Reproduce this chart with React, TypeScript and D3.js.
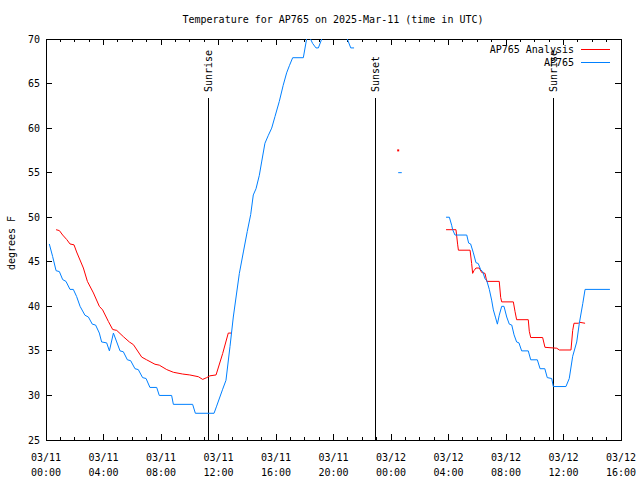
import React from "react";
import * as d3 from "d3";

const START = Date.UTC(2025, 2, 11, 0, 0);
const END = Date.UTC(2025, 2, 12, 16, 0);

// hours after 03/11 00:00 UTC (null = gap)
const obsHours: (number | null)[] = [
  0.23, 0.46, 0.7, 0.93, 1.16, 1.39, 1.67, 1.9, 2.13, 2.37, 2.71, 2.95, 3.22, 3.45, 3.71, 3.87, 4.22, 4.41, 4.69, 4.92,
  5.15, 5.38, 5.66, 5.89, 6.19, 6.42, 6.72, 6.96, 7.23, 7.7, 7.88, 8.74, 8.86, 10.2, 10.39, 11.69, 11.87, 12.29, 12.52,
  12.8, 13.03, 13.45, 13.73, 14.0, 14.24, 14.42, 14.61, 14.84, 15.0, 15.23, 15.47, 15.7, 15.93, 16.23, 16.5, 16.74,
  16.93, 17.16, 17.9, 18.13, 18.25, 18.37, 18.55, 18.78, 18.95, 19.18, 19.5, 20.0, 20.5, 20.96, 21.2, 21.43,
  null,
  24.5, 24.75,
  null,
  27.83, 28.06, 28.22, 28.29, 28.45, 29.27, 29.4, 29.54, 29.73, 29.91, 30.07, 30.24, 30.38, 30.54, 30.66, 30.84, 31.0,
  31.12, 31.28, 31.4, 31.53, 31.7, 31.86, 32.05, 32.23, 32.4, 32.56, 32.74, 32.9, 33.09, 33.55, 33.72, 34.18, 34.37,
  34.7, 34.87, 35.18, 35.29, 36.17, 36.4, 36.64, 36.92, 37.1, 37.34, 37.5, 39.23,
];
const obsTemps: (number | null)[] = [
  47.0, 45.6, 44.0, 43.9, 43.0, 42.8, 41.9, 41.9, 41.1, 40.0, 39.0, 38.8, 38.0, 37.9, 37.0, 36.0, 35.9, 35.0, 37.0, 36.0,
  35.0, 34.9, 34.0, 33.9, 33.0, 32.9, 32.0, 31.9, 30.9, 30.9, 30.0, 30.0, 29.0, 29.0, 28.0, 28.0, 28.8, 30.7, 31.7,
  35.5, 38.8, 43.7, 46.1, 48.4, 50.3, 52.5, 53.2, 54.7, 56.2, 58.3, 59.2, 60.0, 61.3, 63.0, 64.8, 66.2,
  67.0, 67.9, 67.9, 70.0, 70.5, 70.1, 69.5, 69.0, 69.0, 70.0, 71.0, 72.0, 71.5, 70.0, 69.0, 69.0,
  null,
  55.0, 55.0,
  null,
  50.0, 50.0, 49.1, 48.6, 48.0, 48.0, 47.1, 47.0, 46.0, 44.9, 44.8, 44.1, 43.9, 43.1, 42.9, 41.9, 40.7,
  39.6, 38.7, 38.0, 39.0, 40.0, 40.0, 38.8, 38.0, 37.9, 36.8, 36.0, 35.9, 35.0, 35.0, 34.0, 34.0, 33.0,
  33.0, 32.0, 31.9, 31.0, 31.0, 31.9, 34.4, 36.0, 38.1, 40.3, 41.9, 41.9,
];

const anaHours: (number | null)[] = [
  0.7, 0.93, 1.16, 1.44, 1.67, 1.95, 2.13, 2.6, 2.88, 3.3, 3.71, 3.94, 4.34, 4.64, 4.92, 5.38, 5.8, 6.08, 6.66, 7.0,
  7.58, 7.88, 8.4, 8.86, 9.51, 10.0, 10.6, 10.9, 11.18, 11.4, 11.83, 12.29, 12.68, 12.9,
  null,
  24.5,
  null,
  27.83, 28.52, 28.64, 28.69, 29.5, 29.61, 29.68, 29.77, 29.91, 30.14, 30.31, 30.54, 30.66, 31.53, 31.63, 31.7, 32.51,
  32.63, 32.74, 33.55, 33.62, 33.72, 34.55, 34.71, 35.53, 35.71, 36.52, 36.64, 36.73, 37.03, 37.15, 37.5,
];
const anaTemps: (number | null)[] = [
  48.6, 48.5, 48.0, 47.5, 47.0, 46.9, 46.1, 44.3, 42.8, 41.5, 40.0, 39.6, 38.3, 37.4, 37.3, 36.6, 36.0, 35.7, 34.3, 34.0,
  33.5, 33.4, 32.9, 32.6, 32.4, 32.3, 32.1, 31.8, 32.0, 32.2, 32.3, 34.7, 37.0, 37.0,
  null,
  57.5,
  null,
  48.6, 48.6, 46.9, 46.3, 46.3, 44.8, 43.7, 44.0, 44.3, 44.3, 43.8, 43.7, 42.8, 42.8, 41.0, 40.5, 40.5,
  39.4, 38.5, 38.5, 37.2, 36.5, 36.5, 35.4, 35.3, 35.1, 35.1, 37.3, 38.1, 38.1, 38.2, 38.1,
];

const sunLabels = ["Sunrise", "Sunset", "Sunrise"];
const sunHours = [11.3, 22.9, 35.27];

const yTicks = [25, 30, 35, 40, 45, 50, 55, 60, 65, 70];
const seriesNames = ["AP765 Analysis", "AP765"];
const seriesColors = ["#ff0000", "#0080ff"];

const TITLE = "Temperature for AP765 on 2025-Mar-11 (time in UTC)";
const YLABEL = "degrees F";

const FONT = "'DejaVu Sans Mono', 'Liberation Mono', monospace";

type Pt = { t: Date; v: number } | null;
function toPts(hours: (number | null)[], temps: (number | null)[]): Pt[] {
  return hours.map((h, i) =>
    h == null || temps[i] == null ? null : { t: new Date(START + h * 3600000), v: temps[i] as number }
  );
}
function segments(pts: Pt[]): { t: Date; v: number }[][] {
  const out: { t: Date; v: number }[][] = [];
  let cur: { t: Date; v: number }[] = [];
  pts.forEach((p) => {
    if (p == null) {
      if (cur.length) out.push(cur);
      cur = [];
    } else cur.push(p);
  });
  if (cur.length) out.push(cur);
  return out;
}

export default function App() {
  const W = 640, H = 480;
  const L = 46, R = 621, T = 39, B = 440;
  const x = d3.scaleUtc().domain([new Date(START), new Date(END)]).range([L, R]);
  const y = d3.scaleLinear().domain([25, 70]).range([B, T]);

  const major = x.ticks(d3.utcHour.every(4) as any);
  const minor = x.ticks(d3.utcHour.every(1) as any);
  const fmtD = d3.utcFormat("%m/%d");
  const fmtT = d3.utcFormat("%H:%M");

  const line = d3
    .line<{ t: Date; v: number }>()
    .x((d) => x(d.t))
    .y((d) => y(d.v));

  const series = [toPts(anaHours, anaTemps), toPts(obsHours, obsTemps)];

  return (
    <svg
      width={W}
      height={H}
      style={{ position: "absolute", left: 0, top: 0, background: "#fff" }}
      fontFamily={FONT}
      fontSize={10}
    >
      <rect x={0} y={0} width={W} height={H} fill="#fff" />
      <defs>
        <clipPath id="plot">
          <rect x={L} y={T} width={R - L} height={B - T} />
        </clipPath>
      </defs>
      <text x={333} y={19} textAnchor="middle" dy="0.35em">
        {TITLE}
      </text>
      <text transform={`translate(11,243) rotate(-90)`} textAnchor="middle" dy="0.35em">
        {YLABEL}
      </text>

      <g shapeRendering="crispEdges">
        {yTicks.map((t) => (
          <g key={"y" + t}>
            <line x1={L} x2={L + 6} y1={y(t)} y2={y(t)} stroke="#000" />
            <line x1={R} x2={R - 6} y1={y(t)} y2={y(t)} stroke="#000" />
          </g>
        ))}
        {minor.map((d, i) => (
          <g key={"m" + i}>
            <line x1={x(d)} x2={x(d)} y1={B} y2={B - 3} stroke="#000" />
            <line x1={x(d)} x2={x(d)} y1={T} y2={T + 3} stroke="#000" />
          </g>
        ))}
        {major.map((d, i) => (
          <g key={"M" + i}>
            <line x1={x(d)} x2={x(d)} y1={B} y2={B - 6} stroke="#000" />
            <line x1={x(d)} x2={x(d)} y1={T} y2={T + 6} stroke="#000" />
          </g>
        ))}
        {sunHours.map((h, i) => {
          const sx = x(new Date(START + h * 3600000));
          return <line key={"sl" + i} x1={sx} x2={sx} y1={B} y2={98} stroke="#000" />;
        })}
        <rect x={L} y={T} width={R - L} height={B - T} fill="none" stroke="#000" />
      </g>

      {yTicks.map((t) => (
        <text key={"yt" + t} x={40} y={y(t)} dy="0.35em" textAnchor="end">
          {t}
        </text>
      ))}
      {major.map((d, i) => (
        <g key={"Mt" + i}>
          <text x={x(d)} y={457} dy="0.35em" textAnchor="middle">
            {fmtD(d)}
          </text>
          <text x={x(d)} y={472} dy="0.35em" textAnchor="middle">
            {fmtT(d)}
          </text>
        </g>
      ))}

      {sunHours.map((h, i) => {
        const sx = x(new Date(START + h * 3600000));
        return (
          <text key={"st" + i} transform={`translate(${sx},92) rotate(-90)`} dy="0.35em" textAnchor="start">
            {sunLabels[i]}
          </text>
        );
      })}

      <g clipPath="url(#plot)">
        {series.map((pts, si) =>
          segments(pts).map((seg, k) =>
            seg.length > 1 ? (
              <path key={si + "-" + k} d={line(seg) || ""} fill="none" stroke={seriesColors[si]} strokeWidth={1} />
            ) : (
              <rect
                key={si + "-" + k}
                x={x(seg[0].t) - 1}
                y={y(seg[0].v) - 1}
                width={2}
                height={2}
                fill={seriesColors[si]}
              />
            )
          )
        )}
      </g>

      {seriesNames.map((n, i) => (
        <g key={"l" + i}>
          <text x={574} y={49.5 + i * 13} dy="0.35em" textAnchor="end">
            {n}
          </text>
          <line
            x1={581}
            x2={610}
            y1={49.5 + i * 13}
            y2={49.5 + i * 13}
            stroke={seriesColors[i]}
            shapeRendering="crispEdges"
          />
        </g>
      ))}
    </svg>
  );
}
